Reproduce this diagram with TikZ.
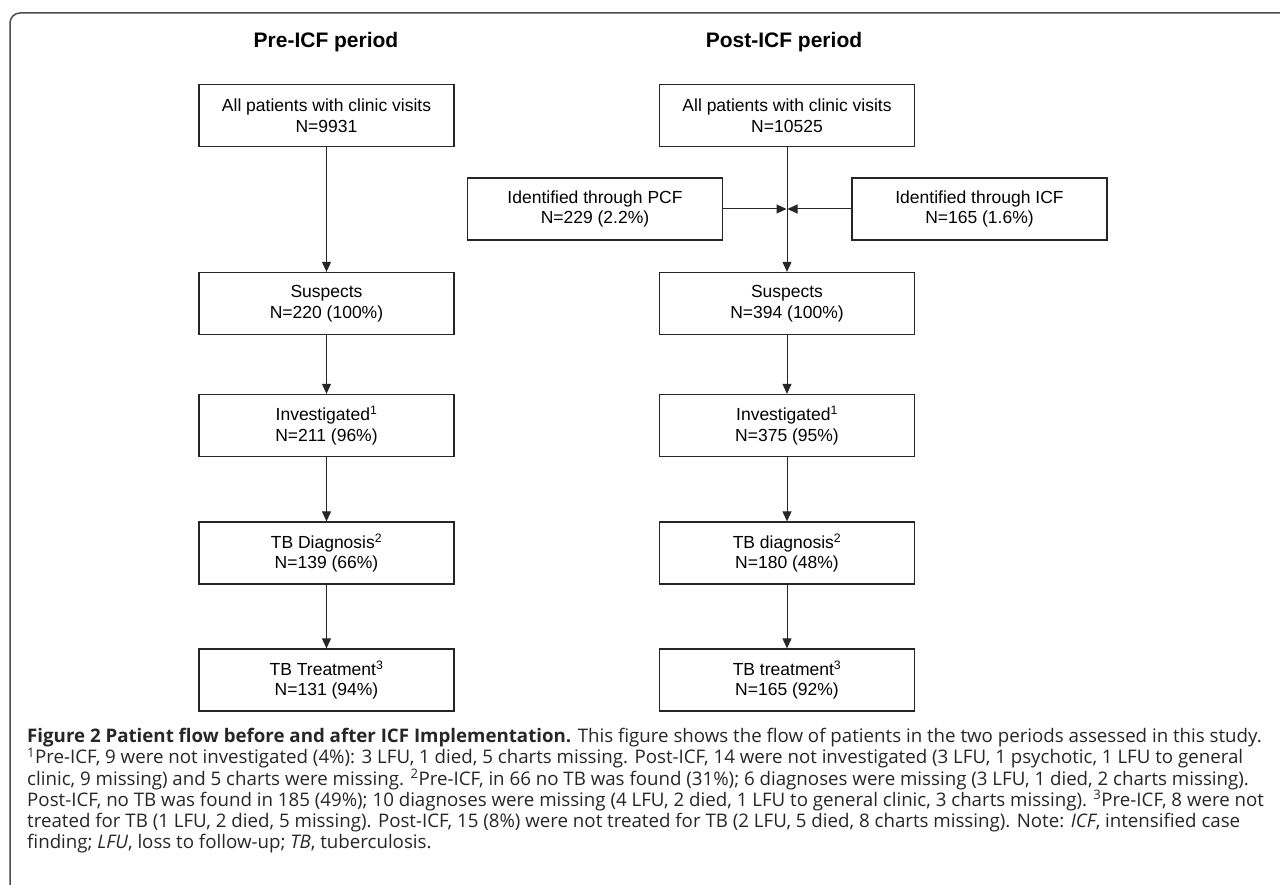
\documentclass[tikz,border=0pt]{standalone}
\usepackage{fontspec}
\usepackage{tikz}
\usetikzlibrary{arrows.meta}
\newfontfamily\boxfont{Liberation Sans}
\newfontfamily\capfont{Open Sans}

\begin{document}
\begin{tikzpicture}[x=1pt,y=1pt,yscale=-1,xscale=1,
    flowbox/.style={draw=black!85,line width=1.3pt,minimum width=255pt,minimum height=62pt,inner sep=0pt,align=center,font=\boxfont\fontsize{17.5}{20.5}\selectfont},
    flowarrow/.style={draw=black!85,line width=1pt,-{Triangle[length=10pt,width=9pt]}},
    header/.style={inner sep=0pt,font=\boxfont\bfseries\fontsize{21}{24}\selectfont},
    capline/.style={anchor=base west,inner sep=0pt,text=black!85,font=\capfont\fontsize{18.7}{21}\selectfont}]
    \useasboundingbox (0,0) rectangle (1280,885);
    
    %Shape: Frame
    \draw [black!70,line width=1.5pt,rounded corners=10pt] (10,885) -- (10,13) -- (1280,13);
    
    % Text Node
    \node [header] (prehead) at (326,42) {Pre-ICF period};
    % Text Node
    \node [header] (posthead) at (784,42) {Post-ICF period};
    
    %Shape: Rectangle (pre-ICF column)
    \node [flowbox] (preall) at (326.5,115.5) {All patients with clinic visits\\N=9931};
    \node [flowbox] (presus) at (326.5,303.5) {Suspects\\N=220 (100\%)};
    \node [flowbox] (preinv) at (326.5,425.5) {Investigated\textsuperscript{1}\\N=211 (96\%)};
    \node [flowbox] (prediag) at (326.5,553) {TB Diagnosis\textsuperscript{2}\\N=139 (66\%)};
    \node [flowbox] (pretreat) at (326.5,680) {TB Treatment\textsuperscript{3}\\N=131 (94\%)};
    
    %Shape: Rectangle (post-ICF column)
    \node [flowbox] (postall) at (787,115.5) {All patients with clinic visits\\N=10525};
    \node [flowbox] (pcf) at (595,209) {Identified through PCF\\N=229 (2.2\%)};
    \node [flowbox] (icf) at (979.5,209) {Identified through ICF\\N=165 (1.6\%)};
    \node [flowbox] (postsus) at (787,303.5) {Suspects\\N=394 (100\%)};
    \node [flowbox] (postinv) at (787,425.5) {Investigated\textsuperscript{1}\\N=375 (95\%)};
    \node [flowbox] (postdiag) at (787,553) {TB diagnosis\textsuperscript{2}\\N=180 (48\%)};
    \node [flowbox] (posttreat) at (787,680) {TB treatment\textsuperscript{3}\\N=165 (92\%)};
    
    %Straight Lines
    \draw [flowarrow] (preall) -- (presus);
    \draw [flowarrow] (presus) -- (preinv);
    \draw [flowarrow] (preinv) -- (prediag);
    \draw [flowarrow] (prediag) -- (pretreat);
    \draw [flowarrow] (postall) -- (postsus);
    \draw [flowarrow] (postsus) -- (postinv);
    \draw [flowarrow] (postinv) -- (postdiag);
    \draw [flowarrow] (postdiag) -- (posttreat);
    \coordinate (merge) at (postall.south |- pcf.east);
    \draw [flowarrow,shorten >=0.5pt] (pcf) -- (merge);
    \draw [flowarrow,shorten >=0.5pt] (icf) -- (merge);
    
    % Text Node (caption)
    \node [capline] (cap1) at (27,742) {\textbf{Figure 2 Patient flow before and after ICF Implementation.} This figure shows the flow of patients in the two periods assessed in this study.};
    \node [capline] (cap2) at (27,763.5) {\textsuperscript{1}Pre-ICF, 9 were not investigated (4\%): 3 LFU, 1 died, 5 charts missing. Post-ICF, 14 were not investigated (3 LFU, 1 psychotic, 1 LFU to general};
    \node [capline] (cap3) at (27,785) {clinic, 9 missing) and 5 charts were missing. \textsuperscript{2}Pre-ICF, in 66 no TB was found (31\%); 6 diagnoses were missing (3 LFU, 1 died, 2 charts missing).};
    \node [capline] (cap4) at (27,806) {Post-ICF, no TB was found in 185 (49\%); 10 diagnoses were missing (4 LFU, 2 died, 1 LFU to general clinic, 3 charts missing). \textsuperscript{3}Pre-ICF, 8 were not};
    \node [capline] (cap5) at (27,827) {treated for TB (1 LFU, 2 died, 5 missing). Post-ICF, 15 (8\%) were not treated for TB (2 LFU, 5 died, 8 charts missing). Note: \textit{ICF}, intensified case};
    \node [capline] (cap6) at (27,848) {finding; \textit{LFU}, loss to follow-up; \textit{TB}, tuberculosis.};
    
\end{tikzpicture}
\end{document}
